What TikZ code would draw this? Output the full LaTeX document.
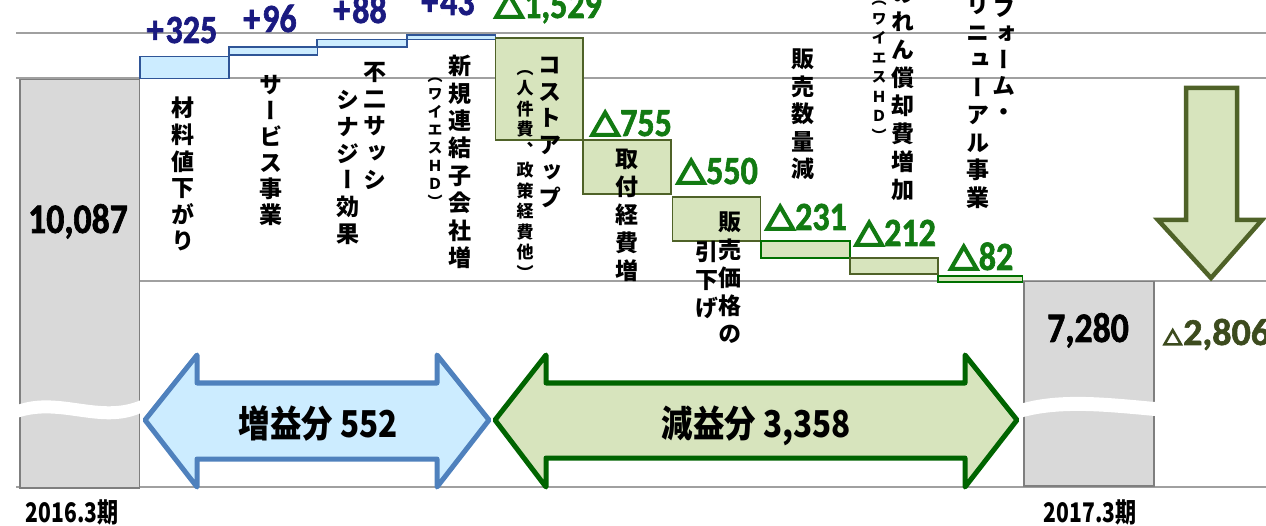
\documentclass[tikz,border=0pt]{standalone}
\usepackage{fontspec}
\usepackage{tikz}
\usetikzlibrary{positioning}
\setmainfont{Noto Sans CJK JP}
\newfontfamily\jpfont[FakeBold=9]{Noto Sans CJK JP}
\newfontfamily\vertjp[RawFeature=+vert]{Noto Sans CJK JP}
\newfontfamily\narrowjp[FakeStretch=0.85]{Noto Sans CJK JP}
\newfontfamily\periodjp[FakeStretch=0.78]{Noto Sans CJK JP}
\newfontfamily\numfont[FakeStretch=0.85, FakeBold=1.5]{Carlito}
\newfontfamily\widenum[FakeBold=1.5]{Carlito}

\definecolor{gridgray}{RGB}{160,160,160}
\definecolor{bargray}{RGB}{217,217,217}
\definecolor{barline}{RGB}{127,127,127}
\definecolor{upfill}{RGB}{204,236,255}
\definecolor{upline}{RGB}{47,85,151}
\definecolor{numblue}{RGB}{26,26,128}
\definecolor{downfill}{RGB}{215,228,189}
\definecolor{downolive}{RGB}{79,98,40}
\definecolor{downgreen}{RGB}{0,112,0}
\definecolor{numgreen}{RGB}{18,122,18}
\definecolor{arrowblue}{RGB}{79,129,189}
\definecolor{arrowgreen}{RGB}{0,100,0}
\definecolor{totaltext}{RGB}{60,75,30}

\newcommand\dtri[1]{{\jpfont\bfseries\fontsize{#1}{#1}\selectfont △}}

\tikzset{
    gridline/.style={draw=gridgray, line width=1.8pt}, % horizontal guide lines
    totalbar/.style={draw=barline, fill=bargray, line width=1.5pt, inner sep=0pt, anchor=north west}, % the two year totals
    upbox/.style={draw=upline, fill=upfill, line width=1.5pt, inner sep=0pt, anchor=north west, minimum width=88.5pt}, % gains
    downbox/.style={draw=downolive, fill=downfill, line width=1.8pt, inner sep=0pt, anchor=north west, minimum width=88pt}, % losses
    upnum/.style={font=\numfont\bfseries\fontsize{40}{40}\selectfont, text=numblue, anchor=base, inner sep=0pt},
    downnum/.style={upnum, text=numgreen},
    totalnum/.style={font=\numfont\bfseries\fontsize{42}{42}\selectfont, anchor=base, inner sep=0pt},
    vtext/.style={font=\vertjp\bfseries\fontsize{23}{#1}\selectfont, align=center, inner sep=0pt, anchor=north}, % one glyph per line
    vtext/.default=27,
    vsmall/.style={font=\vertjp\bfseries\fontsize{15}{#1}\selectfont, align=center, inner sep=0pt, anchor=north},
    vsmall/.default=18,
    period/.style={font=\periodjp\bfseries\fontsize{27}{27}\selectfont, anchor=base, inner sep=0pt},
    bandtext/.style={font=\narrowjp\bfseries\fontsize{37}{37}\selectfont, anchor=base, inner sep=0pt},
    gainarrow/.style={draw=arrowblue, fill=upfill, line width=5pt, line join=round},
    lossarrow/.style={draw=arrowgreen, fill=downfill, line width=5pt, line join=round},
    totalarrow/.style={draw=downolive, fill=downfill, line width=4.5pt},
}

\begin{document}
\begin{tikzpicture}[x=1pt, y=-1pt]
    \useasboundingbox (0,0) rectangle (1266,526);
    \clip (0,0) rectangle (1266,526);

    % guide lines
    \draw[gridline] (16,33.3) -- (1266,33.3);
    \draw[gridline] (16,78.3) -- (1266,78.3);
    \draw[gridline] (139,281) -- (1266,281);
    \draw[gridline] (16,487) -- (1266,487);

    % year totals with their breaks
    \node[totalbar, minimum width=119.5pt, minimum height=408pt] (start) at (19,79) {};
    \node[totalbar, minimum width=130pt, minimum height=204pt] (finish) at (1023,281) {};
    \fill[white] (17,405) .. controls (60,390) and (100,418) .. (141,400) -- (141,413) .. controls (100,431) and (60,403) .. (17,418) -- cycle;
    \fill[white] (1020,404) .. controls (1060,392) and (1110,398) .. (1155,402) -- (1155,416) .. controls (1110,412) and (1060,406) .. (1020,418) -- cycle;
    \node[totalnum] (startval) at (78,233) {10,087};
    \node[totalnum] (finishval) at (1088,342) {7,280};

    % increases
    \node[upbox, minimum width=89pt, minimum height=22pt] (up325) at (139,56) {};
    \node[upbox, minimum height=8pt] (up96) at (228,46.5) {};
    \node[upbox, minimum width=90pt, minimum height=7.5pt] (up88) at (316,39) {};
    \node[upbox, minimum height=4.5pt] (up43) at (406,34.5) {};

    % decreases
    \node[downbox, minimum width=87.5pt, minimum height=102.5pt] (dn1529) at (494.5,37) {};
    \node[downbox, minimum height=54pt] (dn755) at (582,139.5) {};
    \node[downbox, minimum height=44pt] (dn550) at (671.5,196) {};
    \node[downbox, draw=downgreen, minimum width=89pt, minimum height=17pt] (dn231) at (760,240) {};
    \node[downbox, minimum height=16.5pt] (dn212) at (849,257) {};
    \node[downbox, draw=downgreen, minimum width=84.5pt, minimum height=5.5pt] (dn82) at (937,275.5) {};

    % amounts
    \node[upnum] (n325) at (182,43) {+\kern2pt325};
    \node[upnum] (n96) at (270,32) {+\kern2pt96};
    \node[upnum] (n88) at (360,23) {+\kern2pt88};
    \node[upnum] (n43) at (448,15) {+\kern2pt43};
    \node[downnum] (n1529) at (548,18) {\dtri{30}1,529};
    \node[downnum] (n755) at (631,136) {\dtri{30}755};
    \node[downnum] (n550) at (717,184) {\dtri{30}550};
    \node[downnum] (n231) at (806,230) {\dtri{30}231};
    \node[downnum] (n212) at (895,246) {\dtri{30}212};
    \node[downnum] (n82) at (981,270) {\dtri{30}82};

    % item names, set top to bottom
    \node[vtext=26.6] (item1) at (183,97) {材\\料\\値\\下\\が\\り};
    \node[vtext=26] (item2) at (271,75) {サ\\ー\\ビ\\ス\\事\\業};
    \node[vtext=27] (item3a) at (375,62) {不\\二\\サ\\ッ\\シ};
    \node[vtext=26.8] (item3b) at (348,90) {シ\\ナ\\ジ\\ー\\効\\果};
    \node[vtext=27.4] (item4) at (460,55) {新\\規\\連\\結\\子\\会\\社\\増};
    \node[vsmall=18] (item4s) at (435,78) {（\\ワ\\イ\\エ\\ス\\Ｈ\\Ｄ\\）};
    \node[vtext=26.6] (item5) at (550,57) {コ\\ス\\ト\\ア\\ッ\\プ};
    \node[vsmall, font=\vertjp\bfseries\fontsize{17}{20.5}\selectfont] (item5s) at (525,70) {（\\人\\件\\費\\、\\政\\策\\経\\費\\他\\）};
    \node[vtext=28] (item6) at (627,149) {取\\付\\経\\費\\増};
    \node[vtext=28] (item7a) at (730,212) {販\\売\\価\\格\\の};
    \node[vtext=28] (item7b) at (707,241) {引\\下\\げ};
    \node[vtext=27.5] (item8) at (803,49) {販\\売\\数\\量\\減};
    \node[vtext=28] (item9) at (903,-15) {の\\れ\\ん\\償\\却\\費\\増\\加};
    \node[vsmall=19.5] (item9s) at (879,1) {（\\ワ\\イ\\エ\\ス\\Ｈ\\Ｄ\\）};
    \node[vtext=26] (item10a) at (1004,-1) {フ\\ォ\\ー\\ム\\・};
    \node[vtext=27.5] (item10b) at (978,-4) {リ\\ニ\\ュ\\ー\\ア\\ル\\事\\業};

    % gain and loss bands
    \draw[gainarrow] (145,420) -- (197,355) -- (197,383) -- (437,383) -- (437,355) -- (489,420) -- (437,487) -- (437,459) -- (197,459) -- (197,487) -- cycle;
    \node[bandtext] (gain) at (318.5,437) {増益分 552};
    \draw[lossarrow] (495,420) -- (546,355) -- (546,383) -- (965,383) -- (965,355) -- (1017,420) -- (965,487) -- (965,458) -- (546,458) -- (546,487) -- cycle;
    \node[bandtext] (loss) at (756.5,437) {減益分 3,358};

    % overall change
    \draw[totalarrow] (1186,88) -- (1237,88) -- (1237,220) -- (1262,220) -- (1211,278) -- (1158,220) -- (1186,220) -- cycle;
    \node[totalnum, font=\widenum\bfseries\fontsize{38}{38}\selectfont, text=totaltext, anchor=base west] (diff) at (1163,345) {\dtri{19}\kern1pt 2,806};

    % periods
    \node[period] (y2016) at (72,522) {2016.3期};
    \node[period] (y2017) at (1090,522) {2017.3期};
\end{tikzpicture}
\end{document}
